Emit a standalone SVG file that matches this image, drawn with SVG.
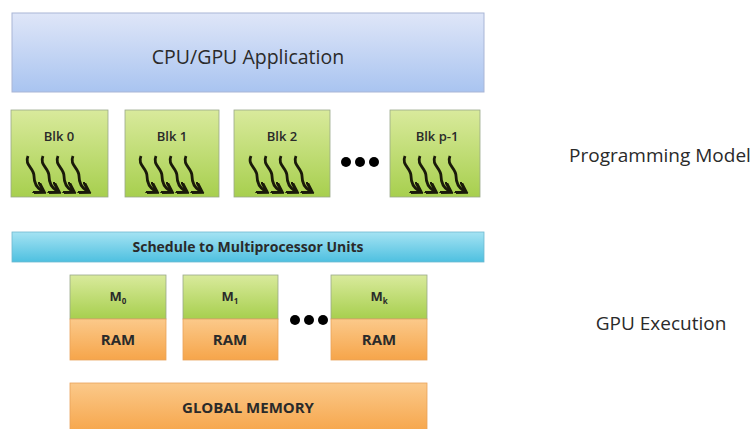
<svg xmlns="http://www.w3.org/2000/svg" xmlns:xlink="http://www.w3.org/1999/xlink" width="755" height="429" viewBox="0 0 755 429">
<defs>
<linearGradient id="gBlue" x1="0" y1="0" x2="0" y2="1"><stop offset="0" stop-color="#dfe6f8"/><stop offset="1" stop-color="#a9c4f0"/></linearGradient>
<linearGradient id="gGreen" x1="0" y1="0" x2="0" y2="1"><stop offset="0" stop-color="#d9ea9c"/><stop offset="1" stop-color="#a7cf4e"/></linearGradient>
<linearGradient id="gCyan" x1="0" y1="0" x2="0" y2="1"><stop offset="0" stop-color="#a5e3f3"/><stop offset="1" stop-color="#4ec0e0"/></linearGradient>
<linearGradient id="gOrange" x1="0" y1="0" x2="0" y2="1"><stop offset="0" stop-color="#fbc98a"/><stop offset="1" stop-color="#f6a54a"/></linearGradient>
<marker id="ah" viewBox="0 0 10 10" refX="6" refY="5" markerWidth="4.5" markerHeight="4.5" orient="auto"><path d="M0,0 L8,5 L0,10" fill="none" stroke="#1a1a0a" stroke-width="2.5"/></marker>
<path id="wave" d="M0,0 C-4,9 6,12 6,20 C6,27 9,32 14,35" fill="none" stroke="#1a1a0a" stroke-width="2.8" marker-end="url(#ah)"/>
<g id="waves"><use xlink:href="#wave" x="0"/><use xlink:href="#wave" x="15"/><use xlink:href="#wave" x="30"/><use xlink:href="#wave" x="45"/></g>
</defs>
<style>
.box{stroke:#9aa88a;stroke-width:0.8}
.lbl{font-family:"Open Sans","Liberation Sans",sans-serif;fill:#2a2a2a;text-anchor:middle}
.b{font-weight:bold}
.sb{font-weight:600}
</style>
<g id="app"><rect x="12" y="13" width="472" height="79" fill="url(#gBlue)" stroke="#a9b6d6" stroke-width="1"/><text class="lbl" x="248" y="64" font-size="19.5">CPU/GPU Application</text></g>
<g id="blk0"><rect class="box" x="11" y="110" width="97" height="87" fill="url(#gGreen)"/><text class="lbl sb" x="59" y="141" font-size="13">Blk 0</text><use xlink:href="#waves" x="28" y="156"/></g>
<g id="blk1"><rect class="box" x="125" y="110" width="94" height="87" fill="url(#gGreen)"/><text class="lbl sb" x="172" y="141" font-size="13">Blk 1</text><use xlink:href="#waves" x="141" y="156"/></g>
<g id="blk2"><rect class="box" x="234" y="110" width="96" height="87" fill="url(#gGreen)"/><text class="lbl sb" x="282" y="141" font-size="13">Blk 2</text><use xlink:href="#waves" x="251" y="156"/></g>
<g id="dots1" fill="#000"><circle cx="346" cy="162" r="5"/><circle cx="360" cy="162" r="5"/><circle cx="374" cy="162" r="5"/></g>
<g id="blkp"><rect class="box" x="390" y="110" width="90" height="87" fill="url(#gGreen)"/><text class="lbl sb" x="437" y="141" font-size="13">Blk p-1</text><use xlink:href="#waves" x="405" y="156"/></g>
<g id="sched"><rect x="12" y="232" width="472" height="30" fill="url(#gCyan)" stroke="#6fb8cf" stroke-width="0.8"/><text class="lbl b" x="248" y="252" font-size="14">Schedule to Multiprocessor Units</text></g>
<g id="m0"><rect class="box" x="70" y="275" width="96" height="44" fill="url(#gGreen)"/><rect x="70" y="319" width="96" height="41" fill="url(#gOrange)" stroke="#e9a25a" stroke-width="0.8"/><text class="lbl b" x="118" y="301" font-size="13">M<tspan font-size="8" dy="3">0</tspan></text><text class="lbl b" x="118" y="345" font-size="15">RAM</text></g>
<g id="m1"><rect class="box" x="183" y="275" width="95" height="44" fill="url(#gGreen)"/><rect x="183" y="319" width="95" height="41" fill="url(#gOrange)" stroke="#e9a25a" stroke-width="0.8"/><text class="lbl b" x="230" y="301" font-size="13">M<tspan font-size="8" dy="3">1</tspan></text><text class="lbl b" x="230" y="345" font-size="15">RAM</text></g>
<g id="dots2" fill="#000"><circle cx="295" cy="320" r="5"/><circle cx="309" cy="320" r="5"/><circle cx="323" cy="320" r="5"/></g>
<g id="mk"><rect class="box" x="331" y="275" width="96" height="44" fill="url(#gGreen)"/><rect x="331" y="319" width="96" height="41" fill="url(#gOrange)" stroke="#e9a25a" stroke-width="0.8"/><text class="lbl b" x="379" y="301" font-size="13">M<tspan font-size="8" dy="3">k</tspan></text><text class="lbl b" x="379" y="345" font-size="15">RAM</text></g>
<g id="gmem"><rect x="70" y="383" width="357" height="50" fill="url(#gOrange)" stroke="#e9a25a" stroke-width="0.8"/><text class="lbl b" x="248" y="413" font-size="15">GLOBAL MEMORY</text></g>
<g id="connectors"></g>
<text class="lbl" x="660" y="162" font-size="19">Programming Model</text>
<text class="lbl" x="661" y="330" font-size="19">GPU Execution</text>
</svg>
